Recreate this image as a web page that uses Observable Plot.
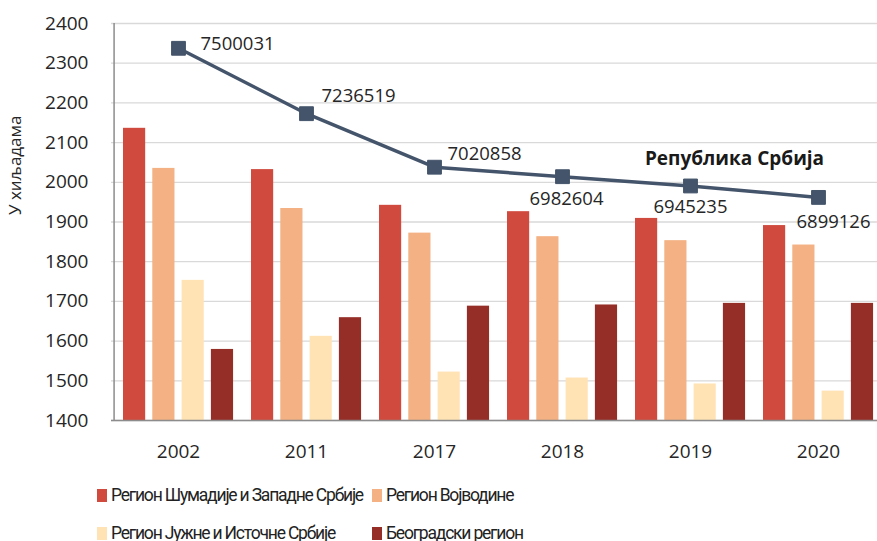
<!DOCTYPE html>
<html><head><meta charset="utf-8">
<script src="https://cdn.jsdelivr.net/npm/d3@7"></script>
<script src="https://cdn.jsdelivr.net/npm/@observablehq/plot@0.6"></script>
<style>
html,body{margin:0;padding:0;background:#fff;overflow:hidden;width:877px;height:541px;}
#chart svg{display:block;overflow:visible;max-width:none;}
#legend{display:grid;grid-template-columns:275px auto;padding-left:97px;padding-top:6px;font-family:"Roboto",sans-serif;font-size:17.5px;letter-spacing:-1.2px;color:#222;}
.item{display:flex;align-items:center;height:38px;white-space:nowrap;}
.sw{width:10px;height:13px;margin-right:4px;flex:none;}
</style></head><body><div id="chart"></div><div id="legend"></div>
<script>
const years = ["2002","2011","2017","2018","2019","2020"];
const regions = ["Регион Шумадије и Западне Србије","Регион Војводине","Регион Јужне и Источне Србије","Београдски регион"];
const sumadija = [2136,2032,1942,1926,1909,1891];
const vojvodina = [2035,1934,1872,1863,1853,1842];
const jugIstok = [1753,1612,1522,1507,1492,1474];
const beograd = [1579,1659,1688,1691,1695,1695];
const total = [7500031,7236519,7020858,6982604,6945235,6899126];
const totalName = "Република Србија";
const yTicks = [1400,1500,1600,1700,1800,1900,2000,2100,2200,2300,2400];
const yTitle = "У хиљадама";
const colors = ["#D04A3E","#F4B183","#FFE3B5","#952E27"];

const seriesValues = [sumadija, vojvodina, jugIstok, beograd];
const barData = seriesValues.map((vals, s) => years.map((yr, i) => ({year: yr, region: regions[s], value: vals[i]})));
// secondary (hidden) axis for the total: 6 000 000 – 7 600 000 mapped onto 1400 – 2400
const y2 = d3.scaleLinear().domain([6000000, 7600000]).range([1400, 2400]);
const lineData = years.map((yr, i) => ({year: yr, total: total[i], yv: y2(total[i])}));

const W = 877, H = 470, mL = 111, mR = -7;
const step = (W - mL - mR) / years.length;
const barW = 23, barStep = 29.3, first = 9;
const font = "Open Sans";

const labelOffsets = [
  {dx: 22, dy: -4, anchor: "start"},
  {dx: 15, dy: -18, anchor: "start"},
  {dx: 13, dy: -13, anchor: "start"},
  {dx: 4, dy: 22.5, anchor: "middle"},
  {dx: 0, dy: 21, anchor: "middle"},
  {dx: 15, dy: 25, anchor: "middle"}
];

const marks = [
  Plot.gridY(yTicks, {stroke: "#d9d9d9", strokeOpacity: 1, strokeWidth: 1.3}),
  ...barData.map((d, s) => Plot.barY(d, {
    x: "year", y1: 1400, y2: "value", fill: colors[s],
    insetLeft: first + barStep * s, insetRight: step - (first + barStep * s) - barW
  })),
  Plot.ruleY([1400], {stroke: "#8c8c8c", strokeWidth: 1.5}),
  Plot.ruleX([years[0]], {y1: 1400, y2: 2400, dx: -step / 2, stroke: "#8c8c8c", strokeWidth: 1.5}),
  Plot.line(lineData, {x: "year", y: "yv", stroke: "#44546A", strokeWidth: 3.5}),
  Plot.dot(lineData, {x: "year", y: "yv", symbol: "square", r: 7.8, fill: "#44546A", stroke: "#44546A", strokeWidth: 1, strokeLinejoin: "round"}),
  ...lineData.map((d, i) => Plot.text([d], {
    x: "year", y: "yv", text: dd => String(dd.total),
    dx: labelOffsets[i].dx, dy: labelOffsets[i].dy, textAnchor: labelOffsets[i].anchor,
    fontFamily: font, fontSize: 18.5, fill: "#262626"
  })),
  Plot.text([lineData[4]], {x: "year", y: "yv", text: () => totalName, dx: 44, dy: -27,
    fontFamily: font, fontWeight: "bold", fontSize: 19, fill: "#1a1a1a"}),
  Plot.text([yTitle], {frameAnchor: "left", rotate: -90, dx: -96, dy: -7,
    fontFamily: font, fontSize: 17, fill: "#262626"}),
  Plot.axisY(yTicks, {tickSize: 0, tickPadding: 23, tickFormat: d => String(d), fontFamily: font, fontSize: 19, fill: "#262626", label: null}),
  Plot.axisX({tickSize: 0, tickPadding: 24, fontFamily: font, fontSize: 19, fill: "#262626", label: null})
];

const chart = Plot.plot({
  width: W, height: H,
  marginLeft: mL, marginRight: mR, marginTop: 23, marginBottom: 50,
  style: {background: "#fff", overflow: "visible", fontFamily: font, fontSize: "19px"},
  x: {type: "band", domain: years, padding: 0, label: null},
  y: {domain: [1400, 2400], label: null},
  marks
});
document.getElementById("chart").append(chart);

const legend = document.getElementById("legend");
[0, 1, 2, 3].forEach(s => {
  const it = document.createElement("div");
  it.className = "item";
  const sw = document.createElement("span");
  sw.className = "sw";
  sw.style.background = colors[s];
  const tx = document.createElement("span");
  tx.textContent = regions[s];
  it.append(sw, tx);
  legend.append(it);
});
</script></body></html>
